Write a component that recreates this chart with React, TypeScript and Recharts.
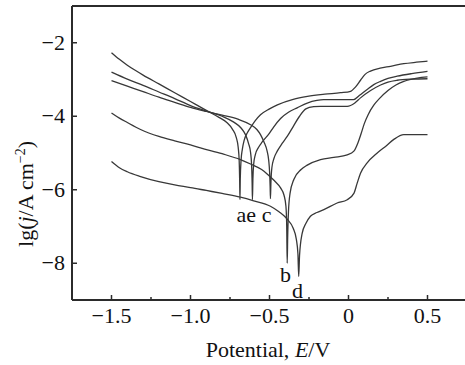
import { Label, Line, LineChart, ReferenceDot, ReferenceLine, XAxis, YAxis } from "recharts";

const FONT = "Liberation Serif, Times New Roman, serif";
const INK = "#2b2b2b";

const xTicks = [-1.5, -1.25, -1, -0.75, -0.5, -0.25, 0, 0.25, 0.5];
const yTicks = [-8, -6, -4, -2];

// [E (V), lg j]
const curveA = [
  [-1.5, -2.27], [-1.45, -2.45], [-1.4, -2.61], [-1.35, -2.75], [-1.3, -2.88], [-1.2, -3.12],
  [-1.1, -3.36], [-1.0, -3.6], [-0.9, -3.84], [-0.82, -4.03], [-0.77, -4.17], [-0.735, -4.35],
  [-0.71, -4.58], [-0.698, -4.85], [-0.692, -5.2], [-0.689, -5.7], [-0.687, -6.27], [-0.685, -5.7],
  [-0.68, -5.2], [-0.672, -4.9], [-0.66, -4.65], [-0.64, -4.45], [-0.62, -4.31], [-0.59, -4.12],
  [-0.557, -3.96], [-0.5, -3.8], [-0.45, -3.69], [-0.35, -3.54], [-0.26, -3.46], [-0.15, -3.4],
  [-0.05, -3.36], [0.013, -3.32], [0.045, -3.2], [0.076, -3.02], [0.105, -2.86], [0.139, -2.77],
  [0.2, -2.69], [0.266, -2.64], [0.35, -2.57], [0.43, -2.53], [0.5, -2.5],
];
const curveE = [
  [-1.5, -2.8], [-1.4, -2.99], [-1.3, -3.16], [-1.2, -3.34], [-1.1, -3.52], [-1.0, -3.71],
  [-0.9, -3.86], [-0.8, -4.0], [-0.726, -4.16], [-0.68, -4.32], [-0.652, -4.5], [-0.632, -4.75],
  [-0.62, -4.98], [-0.613, -5.35], [-0.61, -5.8], [-0.608, -6.27], [-0.605, -5.7], [-0.6, -5.3],
  [-0.59, -5.05], [-0.57, -4.85], [-0.546, -4.7], [-0.5, -4.46], [-0.475, -4.3], [-0.43, -4.06],
  [-0.38, -3.89], [-0.325, -3.77], [-0.261, -3.64], [-0.2, -3.57], [-0.158, -3.55], [0.032, -3.55],
  [0.07, -3.43], [0.118, -3.27], [0.16, -3.14], [0.203, -3.05], [0.25, -2.97], [0.308, -2.91],
  [0.4, -2.84], [0.5, -2.78],
];
const curveC = [
  [-1.5, -3.03], [-1.4, -3.18], [-1.3, -3.33], [-1.2, -3.48], [-1.1, -3.62], [-1.0, -3.76],
  [-0.9, -3.87], [-0.8, -3.97], [-0.7, -4.08], [-0.62, -4.23], [-0.58, -4.36], [-0.557, -4.5],
  [-0.535, -4.7], [-0.515, -4.95], [-0.505, -5.2], [-0.499, -5.55], [-0.496, -5.9], [-0.494, -6.24],
  [-0.491, -5.8], [-0.485, -5.4], [-0.472, -5.15], [-0.451, -4.95], [-0.42, -4.74], [-0.388, -4.55],
  [-0.35, -4.28], [-0.31, -4.0], [-0.27, -3.8], [-0.22, -3.74], [-0.177, -3.73], [-0.008, -3.73],
  [0.04, -3.64], [0.076, -3.5], [0.14, -3.3], [0.203, -3.15], [0.25, -3.07], [0.308, -3.02],
  [0.4, -2.99], [0.5, -2.98],
];
const curveB = [
  [-1.5, -3.91], [-1.45, -4.05], [-1.4, -4.17], [-1.316, -4.36], [-1.2, -4.55], [-1.1, -4.67],
  [-1.0, -4.78], [-0.937, -4.86], [-0.8, -5.02], [-0.684, -5.18], [-0.62, -5.3], [-0.55, -5.45],
  [-0.515, -5.57], [-0.47, -5.75], [-0.43, -5.95], [-0.408, -6.15], [-0.396, -6.45], [-0.391, -7.0],
  [-0.388, -8.0], [-0.385, -7.3], [-0.38, -6.6], [-0.37, -6.1], [-0.346, -5.72], [-0.3, -5.45],
  [-0.261, -5.33], [-0.177, -5.18], [-0.093, -5.12], [-0.008, -5.05], [0.034, -4.95], [0.06, -4.72],
  [0.08, -4.47], [0.1, -4.2], [0.125, -3.95], [0.16, -3.7], [0.2, -3.5], [0.25, -3.3], [0.3, -3.15],
  [0.35, -3.05], [0.435, -2.96], [0.5, -2.93],
];
const curveD = [
  [-1.5, -5.23], [-1.45, -5.4], [-1.4, -5.51], [-1.316, -5.64], [-1.2, -5.78], [-1.1, -5.87],
  [-1.0, -5.94], [-0.9, -6.02], [-0.8, -6.1], [-0.684, -6.2], [-0.6, -6.3], [-0.494, -6.45],
  [-0.44, -6.6], [-0.388, -6.8], [-0.35, -7.05], [-0.33, -7.35], [-0.32, -7.75], [-0.315, -8.36],
  [-0.31, -7.8], [-0.294, -7.2], [-0.27, -6.92], [-0.241, -6.72], [-0.2, -6.62], [-0.156, -6.54],
  [-0.072, -6.36], [-0.008, -6.27], [0.034, -6.1], [0.055, -5.82], [0.076, -5.55], [0.118, -5.27],
  [0.182, -5.0], [0.24, -4.8], [0.287, -4.63], [0.35, -4.5], [0.5, -4.5],
];

const curves = [curveA, curveE, curveC, curveB, curveD];

// curve letters: [text, E, lg j]
const curveLabels: [string, number, number][] = [
  ["ae c", -0.598, -6.66],
  ["b", -0.399, -8.3],
  ["d", -0.323, -8.72],
];

const toRows = (pts: number[][]) => pts.map(([x, y]) => ({ x, y }));

const fmtX = (v: number) => (v === 0 ? "0" : (v < 0 ? "\u2212" : "") + Math.abs(v).toFixed(1));
const fmtY = (v: number) => (v < 0 ? "\u2212" : "") + Math.abs(v);

const X_MARGIN = 10;
const Y_MARGIN = 8;
const FS = 22;

function XTick(props: any) {
  const { x, y, payload } = props;
  const v = payload.value as number;
  const major = Math.abs(v * 2 - Math.round(v * 2)) < 1e-6;
  const axisY = y - X_MARGIN;
  return (
    <g>
      <line x1={x} x2={x} y1={axisY} y2={axisY - (major ? 5 : 3)} stroke={INK} strokeWidth={1.5} />
      {major && (
        <text x={x} y={axisY + 23} textAnchor="middle" fontSize={FS} fontFamily={FONT} fill="#111">
          {fmtX(v)}
        </text>
      )}
    </g>
  );
}

function YTick(props: any) {
  const { x, y, payload } = props;
  const axisX = x + Y_MARGIN;
  return (
    <g>
      <line x1={axisX} x2={axisX + 5} y1={y} y2={y} stroke={INK} strokeWidth={1.5} />
      <text x={axisX - 7} y={y + 7} textAnchor="end" fontSize={FS} fontFamily={FONT} fill="#111">
        {fmtY(payload.value)}
      </text>
    </g>
  );
}

const YTitle = () => (
  <text
    transform="translate(33,194) rotate(-90)"
    textAnchor="middle"
    fontSize={FS}
    fontFamily={FONT}
    fill="#111"
  >
    lg(<tspan fontStyle="italic">j</tspan>/A cm
    <tspan dy={-8} fontSize={14}>{"\u22122"}</tspan>
    <tspan dy={8}>)</tspan>
  </text>
);

const XTitle = () => (
  <text x={268} y={357} textAnchor="middle" fontSize={FS} fontFamily={FONT} fill="#111">
    Potential, <tspan fontStyle="italic">E</tspan>/V
  </text>
);

export default function App() {
  return (
    <div
      style={{
        position: "absolute",
        left: 0,
        top: 0,
        width: 465,
        height: 365,
        overflow: "hidden",
        background: "#fff",
      }}
    >
      <LineChart width={480} height={365} margin={{ top: 6, right: 13, bottom: 0, left: 0 }}>
        <XAxis
          type="number"
          dataKey="x"
          domain={[-1.75, 0.75]}
          ticks={xTicks}
          allowDataOverflow
          height={65}
          tickSize={0}
          tickMargin={X_MARGIN}
          tick={<XTick />}
          axisLine={{ stroke: INK, strokeWidth: 2 }}
          interval={0}
        >
          <Label content={<XTitle />} />
        </XAxis>
        <YAxis
          type="number"
          domain={[-9, -1]}
          ticks={yTicks}
          allowDataOverflow
          width={72}
          tickSize={0}
          tickMargin={Y_MARGIN}
          tick={<YTick />}
          axisLine={{ stroke: INK, strokeWidth: 2 }}
          interval={0}
        >
          <Label content={<YTitle />} />
        </YAxis>
        <ReferenceLine y={-1} stroke={INK} strokeWidth={2} />
        {curves.map((c, i) => (
          <Line
            key={i}
            data={toRows(c)}
            dataKey="y"
            type="monotoneX"
            stroke="#383838"
            strokeWidth={1.3}
            dot={false}
            activeDot={false}
            isAnimationActive={false}
          />
        ))}
        {curveLabels.map(([t, x, y]) => (
          <ReferenceDot
            key={t}
            x={x}
            y={y}
            r={0}
            fill="none"
            stroke="none"
            label={{ value: t, position: "center", fontSize: FS, fontFamily: FONT, fill: "#111" }}
          />
        ))}
      </LineChart>
    </div>
  );
}
